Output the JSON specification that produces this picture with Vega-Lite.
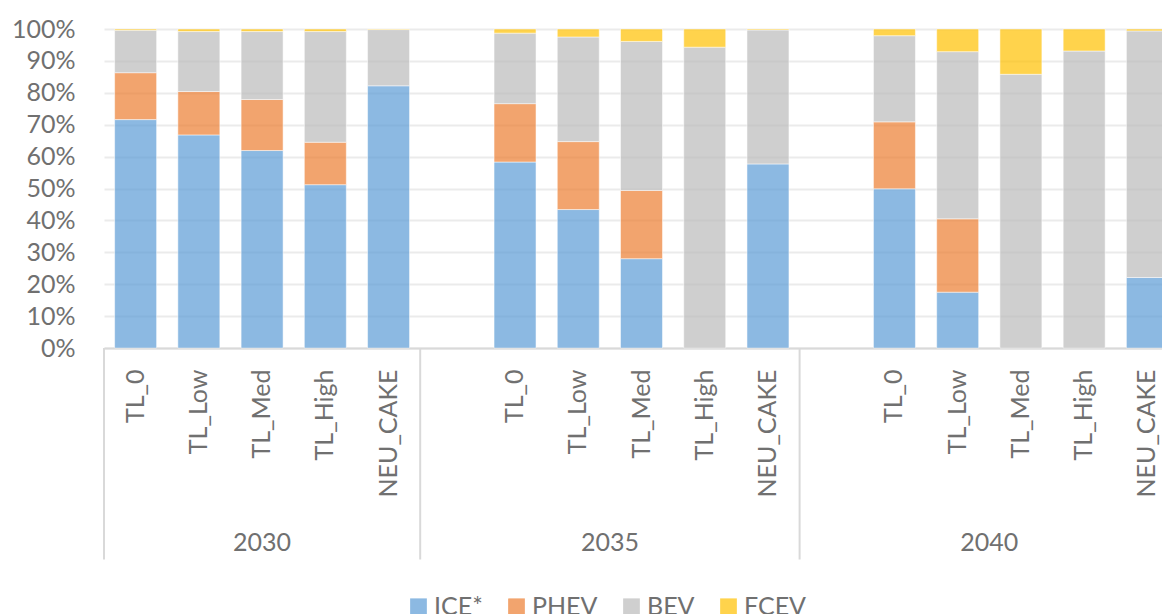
{
  "$schema": "https://vega.github.io/schema/vega-lite/v6.json",
  "width": 1058,
  "height": 319,
  "autosize": {"type": "none"},
  "padding": {"left": 104, "top": 29, "right": 0, "bottom": 266},
  "background": "white",
  "config": {
    "font": "Lato",
    "view": {"stroke": null},
    "axisX": {
      "domainColor": "#D9D9D9",
      "domainWidth": 2,
      "ticks": false,
      "tickSize": 0,
      "labelAngle": -90,
      "labelFontSize": 25,
      "labelColor": "#707070",
      "labelPadding": 21,
      "labelOverlap": false,
      "labelExpr": "split(datum.value, '|')[1]",
      "grid": false,
      "title": null
    },
    "axisY": {
      "domain": false,
      "ticks": false,
      "tickSize": 0,
      "labelFontSize": 25,
      "labelColor": "#707070",
      "labelPadding": 29,
      "grid": true,
      "gridColor": "#EBEBEB",
      "gridWidth": 2,
      "title": null
    }
  },
  "datasets": {
    "bars": [
      {"slot": "2030|TL_0", "type": "ICE*", "share": 71.6},
      {"slot": "2030|TL_0", "type": "PHEV", "share": 14.7},
      {"slot": "2030|TL_0", "type": "BEV", "share": 13.3},
      {"slot": "2030|TL_0", "type": "FCEV", "share": 0.4},
      {"slot": "2030|TL_Low", "type": "ICE*", "share": 66.8},
      {"slot": "2030|TL_Low", "type": "PHEV", "share": 13.6},
      {"slot": "2030|TL_Low", "type": "BEV", "share": 18.8},
      {"slot": "2030|TL_Low", "type": "FCEV", "share": 0.8},
      {"slot": "2030|TL_Med", "type": "ICE*", "share": 61.9},
      {"slot": "2030|TL_Med", "type": "PHEV", "share": 16.0},
      {"slot": "2030|TL_Med", "type": "BEV", "share": 21.3},
      {"slot": "2030|TL_Med", "type": "FCEV", "share": 0.8},
      {"slot": "2030|TL_High", "type": "ICE*", "share": 51.2},
      {"slot": "2030|TL_High", "type": "PHEV", "share": 13.3},
      {"slot": "2030|TL_High", "type": "BEV", "share": 34.7},
      {"slot": "2030|TL_High", "type": "FCEV", "share": 0.8},
      {"slot": "2030|NEU_CAKE", "type": "ICE*", "share": 82.2},
      {"slot": "2030|NEU_CAKE", "type": "BEV", "share": 17.6},
      {"slot": "2030|NEU_CAKE", "type": "FCEV", "share": 0.2},
      {"slot": "2035|TL_0", "type": "ICE*", "share": 58.3},
      {"slot": "2035|TL_0", "type": "PHEV", "share": 18.3},
      {"slot": "2035|TL_0", "type": "BEV", "share": 22.1},
      {"slot": "2035|TL_0", "type": "FCEV", "share": 1.3},
      {"slot": "2035|TL_Low", "type": "ICE*", "share": 43.4},
      {"slot": "2035|TL_Low", "type": "PHEV", "share": 21.3},
      {"slot": "2035|TL_Low", "type": "BEV", "share": 32.8},
      {"slot": "2035|TL_Low", "type": "FCEV", "share": 2.5},
      {"slot": "2035|TL_Med", "type": "ICE*", "share": 28.0},
      {"slot": "2035|TL_Med", "type": "PHEV", "share": 21.4},
      {"slot": "2035|TL_Med", "type": "BEV", "share": 46.7},
      {"slot": "2035|TL_Med", "type": "FCEV", "share": 3.9},
      {"slot": "2035|TL_High", "type": "BEV", "share": 94.3},
      {"slot": "2035|TL_High", "type": "FCEV", "share": 5.7},
      {"slot": "2035|NEU_CAKE", "type": "ICE*", "share": 57.7},
      {"slot": "2035|NEU_CAKE", "type": "BEV", "share": 42.0},
      {"slot": "2035|NEU_CAKE", "type": "FCEV", "share": 0.3},
      {"slot": "2040|TL_0", "type": "ICE*", "share": 49.9},
      {"slot": "2040|TL_0", "type": "PHEV", "share": 21.0},
      {"slot": "2040|TL_0", "type": "BEV", "share": 27.0},
      {"slot": "2040|TL_0", "type": "FCEV", "share": 2.1},
      {"slot": "2040|TL_Low", "type": "ICE*", "share": 17.5},
      {"slot": "2040|TL_Low", "type": "PHEV", "share": 23.0},
      {"slot": "2040|TL_Low", "type": "BEV", "share": 52.4},
      {"slot": "2040|TL_Low", "type": "FCEV", "share": 7.1},
      {"slot": "2040|TL_Med", "type": "BEV", "share": 85.8},
      {"slot": "2040|TL_Med", "type": "FCEV", "share": 14.2},
      {"slot": "2040|TL_High", "type": "BEV", "share": 93.1},
      {"slot": "2040|TL_High", "type": "FCEV", "share": 6.9},
      {"slot": "2040|NEU_CAKE", "type": "ICE*", "share": 22.1},
      {"slot": "2040|NEU_CAKE", "type": "BEV", "share": 77.3},
      {"slot": "2040|NEU_CAKE", "type": "FCEV", "share": 0.6}
    ],
    "dividers": [
      {"slot": "2030|TL_0"},
      {"slot": "2035|"},
      {"slot": "2040|"}
    ],
    "yearsA": [
      {"year": "2030", "slot": "2030|TL_Med"}
    ],
    "yearsB": [
      {"year": "2035", "slot": "2035|TL_Med"},
      {"year": "2040", "slot": "2040|TL_Med"}
    ]
  },
  "layer": [
    {
      "data": {"name": "bars"},
      "transform": [
        {"calculate": "indexof(['ICE*', 'PHEV', 'BEV', 'FCEV'], datum.type)", "as": "stackOrder"}
      ],
      "mark": {"type": "bar", "width": {"band": 0.664}, "fillOpacity": 0.7, "stroke": "white", "strokeOpacity": 0.5, "strokeWidth": 1},
      "encoding": {
        "x": {
          "field": "slot", "type": "nominal",
          "scale": {
            "domain": ["2030|TL_0", "2030|TL_Low", "2030|TL_Med", "2030|TL_High", "2030|NEU_CAKE", "2035|", "2035|TL_0", "2035|TL_Low", "2035|TL_Med", "2035|TL_High", "2035|NEU_CAKE", "2040|", "2040|TL_0", "2040|TL_Low", "2040|TL_Med", "2040|TL_High", "2040|NEU_CAKE"],
            "range": [0, 1075], "paddingInner": 0, "paddingOuter": 0
          }
        },
        "y": {
          "field": "share", "type": "quantitative", "stack": "normalize",
          "scale": {"domain": [0, 1], "nice": false},
          "axis": {"format": ".0%", "values": [0, 0.1, 0.2, 0.3, 0.4, 0.5, 0.6, 0.7, 0.8, 0.9, 1]}
        },
        "order": {"field": "stackOrder", "type": "quantitative", "sort": "ascending"},
        "color": {
          "field": "type", "type": "nominal",
          "scale": {"domain": ["ICE*", "PHEV", "BEV", "FCEV"], "range": ["#5B9BD5", "#ED7D31", "#BBBBBB", "#FFC000"]},
          "legend": {
            "title": null, "orient": "none", "legendX": 302, "legendY": 565, "direction": "horizontal",
            "symbolType": "square", "symbolSize": 280, "symbolOpacity": 0.7, "symbolStrokeWidth": 0,
            "labelFontSize": 25, "labelColor": "#707070", "labelOffset": 3, "columnPadding": 21, "padding": 0
          }
        }
      }
    },
    {
      "data": {"name": "dividers"},
      "mark": {"type": "rule", "color": "#D9D9D9", "strokeWidth": 2},
      "encoding": {
        "x": {
          "field": "slot", "type": "nominal", "bandPosition": 0,
          "scale": {
            "domain": ["2030|TL_0", "2030|TL_Low", "2030|TL_Med", "2030|TL_High", "2030|NEU_CAKE", "2035|", "2035|TL_0", "2035|TL_Low", "2035|TL_Med", "2035|TL_High", "2035|NEU_CAKE", "2040|", "2040|TL_0", "2040|TL_Low", "2040|TL_Med", "2040|TL_High", "2040|NEU_CAKE"],
            "range": [0, 1075], "paddingInner": 0, "paddingOuter": 0
          }
        },
        "y": {"datum": 0, "type": "quantitative", "scale": {"domain": [0, 1], "nice": false}, "axis": {"format": ".0%", "values": [0, 0.1, 0.2, 0.3, 0.4, 0.5, 0.6, 0.7, 0.8, 0.9, 1]}},
        "y2": {"datum": -0.663}
      }
    },
    {
      "data": {"name": "yearsA"},
      "mark": {"type": "text", "fontSize": 25, "color": "#707070", "baseline": "middle", "align": "center"},
      "encoding": {
        "x": {
          "field": "slot", "type": "nominal", "bandPosition": 0.5,
          "scale": {
            "domain": ["2030|TL_0", "2030|TL_Low", "2030|TL_Med", "2030|TL_High", "2030|NEU_CAKE", "2035|", "2035|TL_0", "2035|TL_Low", "2035|TL_Med", "2035|TL_High", "2035|NEU_CAKE", "2040|", "2040|TL_0", "2040|TL_Low", "2040|TL_Med", "2040|TL_High", "2040|NEU_CAKE"],
            "range": [0, 1075], "paddingInner": 0, "paddingOuter": 0
          }
        },
        "y": {"datum": -0.61, "type": "quantitative", "scale": {"domain": [0, 1], "nice": false}, "axis": {"format": ".0%", "values": [0, 0.1, 0.2, 0.3, 0.4, 0.5, 0.6, 0.7, 0.8, 0.9, 1]}},
        "text": {"field": "year"}
      }
    },
    {
      "data": {"name": "yearsB"},
      "mark": {"type": "text", "fontSize": 25, "color": "#707070", "baseline": "middle", "align": "center"},
      "encoding": {
        "x": {
          "field": "slot", "type": "nominal", "bandPosition": 0,
          "scale": {
            "domain": ["2030|TL_0", "2030|TL_Low", "2030|TL_Med", "2030|TL_High", "2030|NEU_CAKE", "2035|", "2035|TL_0", "2035|TL_Low", "2035|TL_Med", "2035|TL_High", "2035|NEU_CAKE", "2040|", "2040|TL_0", "2040|TL_Low", "2040|TL_Med", "2040|TL_High", "2040|NEU_CAKE"],
            "range": [0, 1075], "paddingInner": 0, "paddingOuter": 0
          }
        },
        "y": {"datum": -0.61, "type": "quantitative", "scale": {"domain": [0, 1], "nice": false}, "axis": {"format": ".0%", "values": [0, 0.1, 0.2, 0.3, 0.4, 0.5, 0.6, 0.7, 0.8, 0.9, 1]}},
        "text": {"field": "year"}
      }
    }
  ]
}
